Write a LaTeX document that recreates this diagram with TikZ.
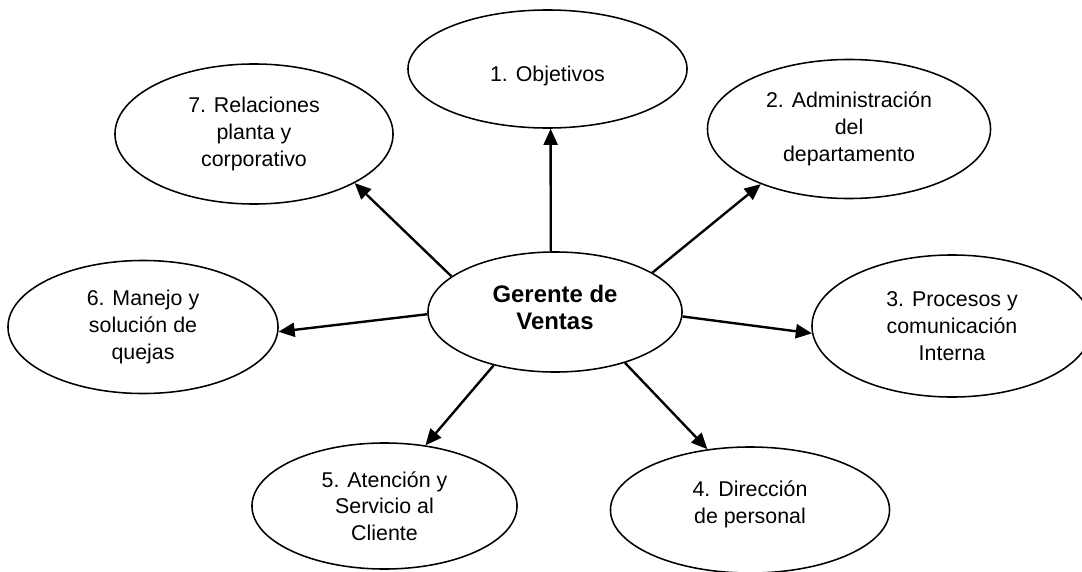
\documentclass[tikz,border=0pt]{standalone}
\usepackage{fontspec}
\setmainfont{Liberation Sans}
\usetikzlibrary{shapes.geometric, arrows.meta}
\tikzstyle{idea} = [ellipse, draw=black, line width=1.1pt, align=center, inner sep=0pt, font=\fontsize{15.2}{19}\selectfont]
\tikzstyle{arrow} = [line width=1.7pt, -{Triangle[length=11.5pt,width=10pt]}]

\begin{document}
\begin{tikzpicture}[x=0.025cm, y=0.025cm]
\useasboundingbox (0,0) rectangle (1082,-571);
\node (gerente) [idea, minimum width=6.35cm, minimum height=3cm, text depth=7pt, font=\fontsize{17}{19.5}\selectfont\bfseries] at (555,-312) {Gerente de\\Ventas};
\node (objetivos) [idea, minimum width=6.975cm, minimum height=2.95cm, text height=21pt] at (547.5,-69) {1. Objetivos};
\node (admin) [idea, minimum width=7.075cm, minimum height=3.475cm] at (849,-129) {2. Administración\\del\\departamento};
\node (procesos) [idea, minimum width=7cm, minimum height=3.55cm] at (952,-326) {3. Procesos y\\comunicación\\Interna};
\node (direccion) [idea, minimum width=6.975cm, minimum height=3.15cm, text depth=11.5pt] at (750,-510) {4. Dirección\\de personal};
\node (atencion) [idea, minimum width=6.625cm, minimum height=3.15cm] at (384.5,-506) {5. Atención y\\Servicio al\\Cliente};
\node (quejas) [idea, minimum width=6.75cm, minimum height=3.325cm] at (143,-327) {6. Manejo y\\solución de\\quejas};
\node (relaciones) [idea, minimum width=6.95cm, minimum height=3.5cm] at (254,-134) {7. Relaciones\\planta y\\corporativo};
\draw [arrow] (gerente.94) -- (objetivos.-87.6);
\draw [arrow] (gerente.22.2) -- (admin.212);
\draw [arrow] (gerente.-2.3) -- (procesos.183.7);
\draw [arrow] (gerente.-36.5) -- (direccion.125.8);
\draw [arrow] (gerente.221.5) -- (atencion.56);
\draw [arrow] (gerente.181.8) -- (quejas.-2.5);
\draw [arrow] (gerente.161.2) -- (relaciones.-26.3);
\end{tikzpicture}
\end{document}
